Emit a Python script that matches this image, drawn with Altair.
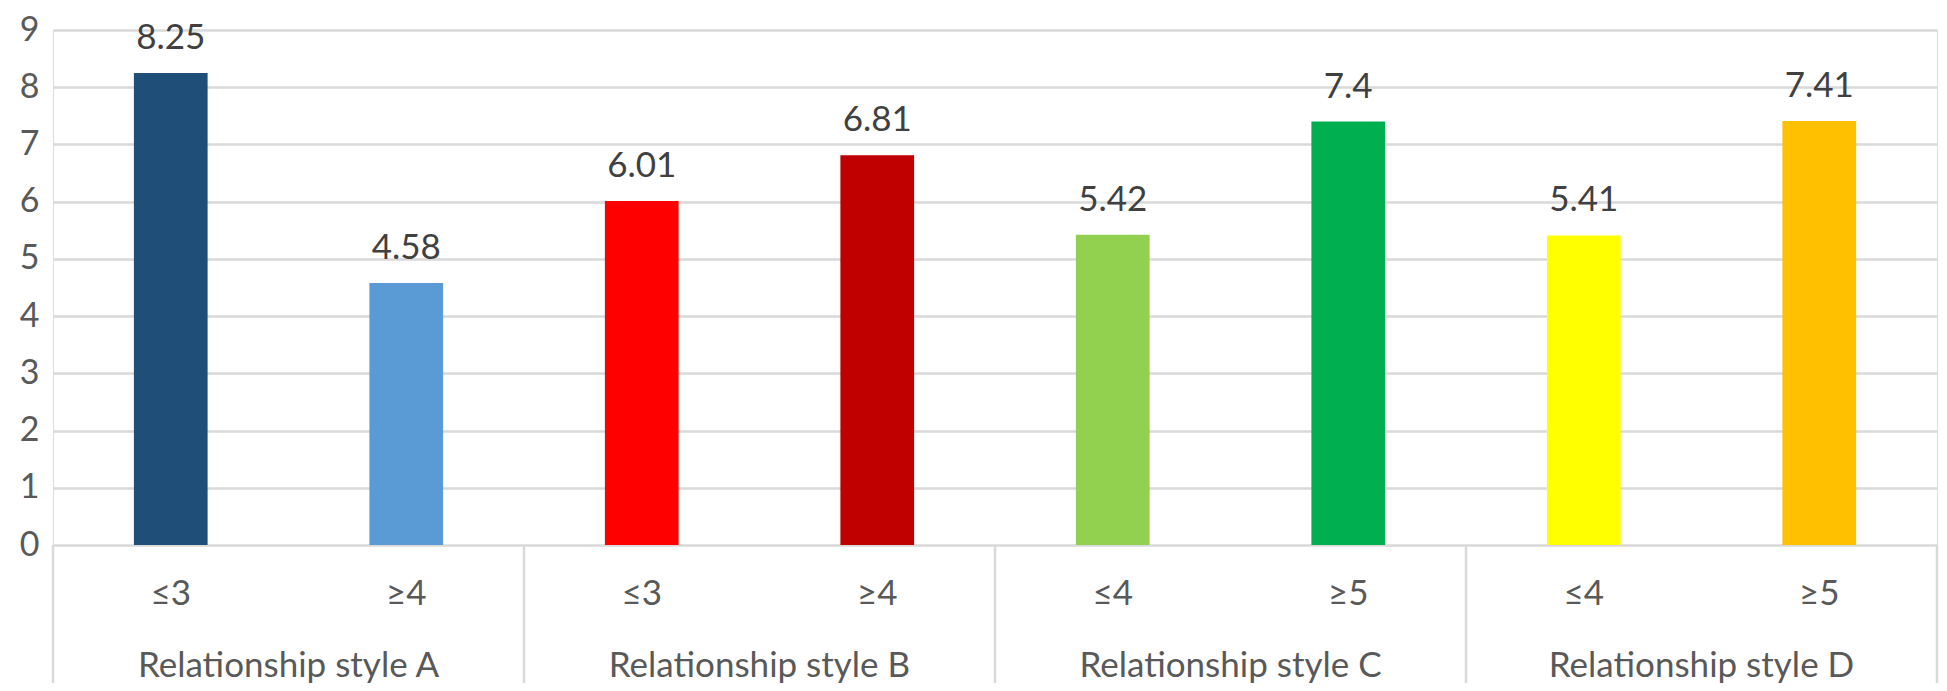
import altair as alt
import pandas as pd

groups = ["Relationship style A", "Relationship style A",
          "Relationship style B", "Relationship style B",
          "Relationship style C", "Relationship style C",
          "Relationship style D", "Relationship style D"]
subs = ["≤3", "≥4", "≤3", "≥4", "≤4", "≥5", "≤4", "≥5"]
values = [8.25, 4.58, 6.01, 6.81, 5.42, 7.4, 5.41, 7.41]
colors = ["#1F4E79", "#5B9BD5", "#FF0000", "#C00000",
          "#92D050", "#00B050", "#FFFF00", "#FFC000"]
y_ticks = [0, 1, 2, 3, 4, 5, 6, 7, 8, 9]

keys = [f"{g}|{s}" for g, s in zip(groups, subs)]
df = pd.DataFrame({
    "key": keys,
    "group": groups,
    "sub": subs,
    "value": values,
    "label": [str(v) for v in values],
    "color": colors,
})

W = 1884
H = 515
STEP = W / 8
FONT = "Lato"
FS = 35

xscale = alt.Scale(domain=keys, paddingInner=0.687, paddingOuter=0.3435)
x_enc = alt.X("key:N", scale=xscale, sort=keys, axis=None)

base = alt.Chart(df)

bars = base.mark_bar().encode(
    x=x_enc,
    y=alt.Y("value:Q",
            scale=alt.Scale(domain=[0, 9], nice=False, zero=True),
            axis=alt.Axis(values=y_ticks, format="d", title=None, domain=False,
                          ticks=False, tickSize=0, labelPadding=14,
                          labelFontSize=34, labelFont=FONT, labelColor="#595959",
                          gridColor="#D9D9D9", gridWidth=2.5)),
    color=alt.Color("color:N", scale=None),
)

value_labels = base.mark_text(baseline="alphabetic", dy=-24, fontSize=FS,
                              font=FONT, color="#404040").encode(
    x=x_enc,
    y=alt.Y("value:Q"),
    text="label:N",
)

sub_labels = base.mark_text(baseline="alphabetic", fontSize=FS, font=FONT,
                            color="#595959").encode(
    x=x_enc,
    y=alt.value(H + 60),
    text="sub:N",
)

first_df = df.groupby("group", as_index=False).first()
group_labels = alt.Chart(first_df).mark_text(
    baseline="alphabetic", fontSize=FS, font=FONT, color="#595959",
    dx=STEP / 2).encode(
    x=x_enc,
    y=alt.value(H + 132),
    text="group:N",
)

left_dividers = alt.Chart(first_df).mark_rule(
    color="#D9D9D9", strokeWidth=2.5, xOffset=-STEP / 2).encode(
    x=x_enc,
    y=alt.value(H),
    y2=alt.value(H + 138),
)

last_df = df.tail(1)
right_divider = alt.Chart(last_df).mark_rule(
    color="#D9D9D9", strokeWidth=2.5, xOffset=STEP / 2).encode(
    x=x_enc,
    y=alt.value(H),
    y2=alt.value(H + 138),
)

chart = alt.layer(
    bars, value_labels, sub_labels, group_labels, left_dividers, right_divider
).properties(
    width=W, height=H,
    autosize=alt.AutoSizeParams(type="none"),
    padding={"left": 45, "right": 2, "top": 22, "bottom": 138},
).configure_view(stroke=None).configure(background="white")

chart.save("out.html", embed_options={"renderer": "svg", "actions": False})
